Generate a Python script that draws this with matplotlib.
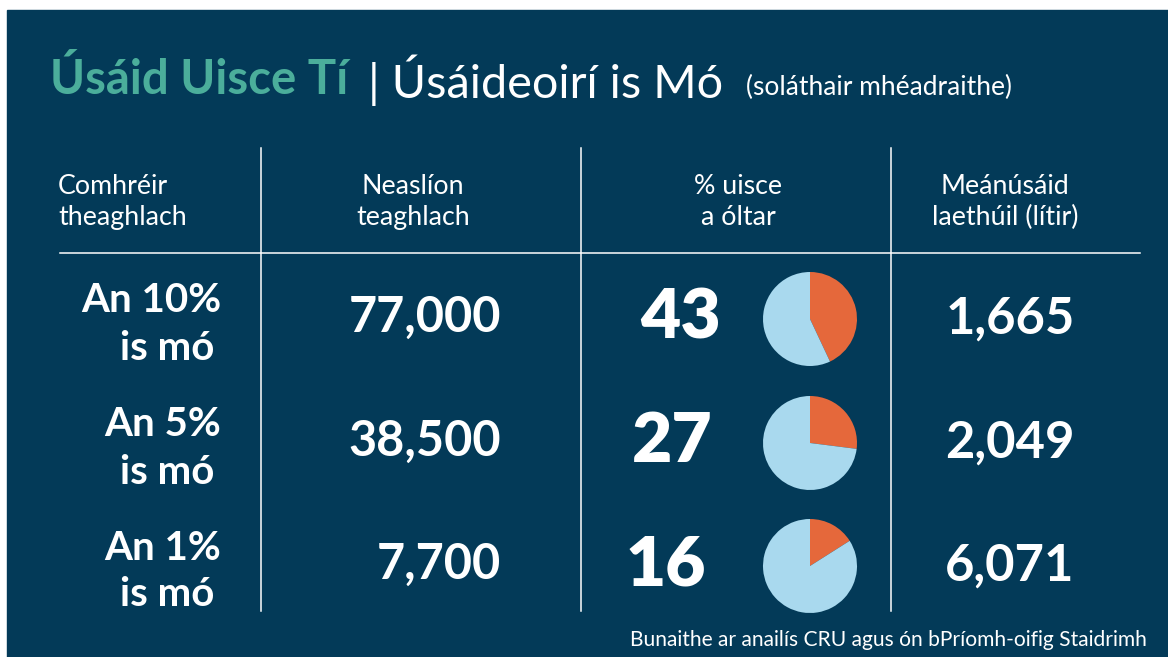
import matplotlib
matplotlib.use("Agg")
import matplotlib.pyplot as plt
from matplotlib.patches import Rectangle

# ───────────────────────────── Data ─────────────────────────────
groups = ["An 10%", "An 5%", "An 1%"]
group_sub = ["is mó", "is mó", "is mó"]
households = [77000, 38500, 7700]
pct_drunk = [43, 27, 16]
avg_daily_litres = [1665, 2049, 6071]

headers = ["Comhréir\ntheaghlach", "Neaslíon\nteaghlach",
           "% uisce\na óltar", "Meánúsáid\nlaethúil (lítir)"]
title_main = "Úsáid Uisce Tí"
title_rest = "| Úsáideoirí is Mó"
title_note = "(soláthair mhéadraithe)"
source = "Bunaithe ar anailís CRU agus ón bPríomh-oifig Staidrimh"

# ─────────────────────────── Styling ────────────────────────────
W, H = 1168, 657
BG = "#033A58"
TEAL = "#4BAE9B"
ORANGE = "#E5683B"
LIGHT = "#A9D9EE"
FONT = ["Lato", "DejaVu Sans"]


def Y(y):
    """pixel row (top-down) -> data y (bottom-up)"""
    return H - y


fig = plt.figure(figsize=(W / 100, H / 100), dpi=100, facecolor="white")
ax = fig.add_axes([0, 0, 1, 1])
ax.set_axis_off()

# dark panel
ax.add_patch(Rectangle((7, 0), W - 7, Y(10), color=BG, zorder=0))

# title
ax.text(50, Y(80), title_main, color=TEAL, fontsize=34, fontweight="bold",
        family=FONT, va="center", ha="left")
ax.text(368, Y(80), title_rest, color="white", fontsize=33.7,
        family=FONT, va="center", ha="left")
ax.text(746, Y(87), title_note, color="white", fontsize=19,
        family=FONT, va="center", ha="left")

# grid lines
for x in [261, 581, 891]:
    ax.plot([x, x], [Y(148), Y(611)], color="white", lw=1.1, zorder=1)
ax.plot([60, 1140], [Y(253), Y(253)], color="white", lw=1.1, zorder=1)

# headers
hdr_x = [58, 413, 738, 1005]
hdr_ha = ["left", "center", "center", "center"]
for txt, x, ha in zip(headers, hdr_x, hdr_ha):
    ax.text(x, Y(202), txt, color="white", fontsize=19.3, family=FONT,
            ha=ha, va="center", linespacing=1.32, multialignment=ha)

# rows
row_y = [319, 443, 566]
pct_x = [681, 672, 666]
for i, y in enumerate(row_y):
    ax.text(221, Y(y - 18), groups[i], color="white", fontsize=29,
            fontweight="bold", family=FONT, ha="right", va="center")
    ax.text(214, Y(y + 29), group_sub[i], color="white", fontsize=29,
            fontweight="bold", family=FONT, ha="right", va="center")
    ax.text(501, Y(y - 2), f"{households[i]:,}", color="white", fontsize=35,
            fontweight="bold", family=FONT, ha="right", va="center")
    ax.text(pct_x[i], Y(y), f"{pct_drunk[i]}", color="white", fontsize=50,
            fontweight="heavy", family=FONT, ha="center", va="center")
    ax.pie([pct_drunk[i], 100 - pct_drunk[i]], colors=[ORANGE, LIGHT],
           startangle=90, counterclock=False, center=(810, Y(y)),
           radius=47, frame=True, wedgeprops=dict(linewidth=0))
    ax.text(1010, Y(y), f"{avg_daily_litres[i]:,}", color="white",
            fontsize=36.5, fontweight="bold", family=FONT, ha="center",
            va="center")

# source
ax.text(1147, Y(640), source, color="white", fontsize=15.1, family=FONT,
        ha="right", va="center")

ax.set_xlim(0, W)
ax.set_ylim(0, H)
ax.set_aspect("auto")
ax.set_axis_off()

fig.savefig("out.png", dpi=100, facecolor="white")
